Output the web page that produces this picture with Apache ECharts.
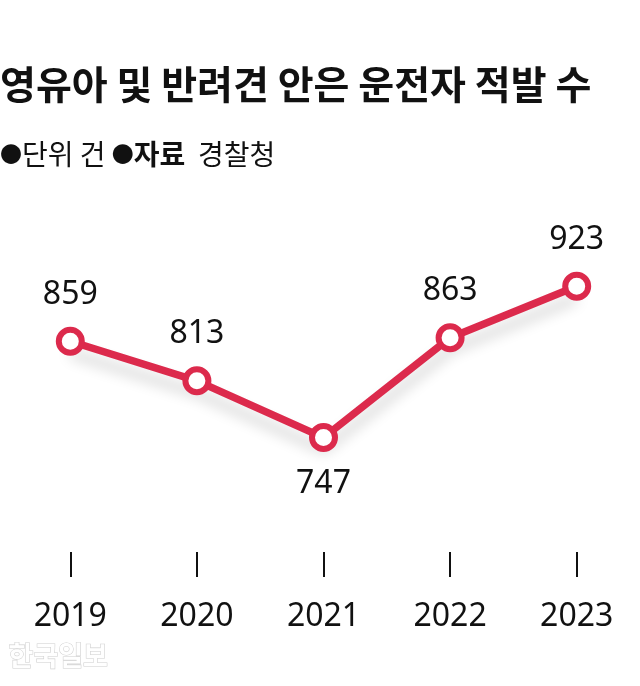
<!DOCTYPE html>
<html><head><meta charset="utf-8">
<script src="https://cdn.jsdelivr.net/npm/echarts@6/dist/echarts.min.js"></script>
<style>html,body{margin:0;padding:0;background:#fff}#c{width:640px;height:686px}</style>
</head><body><div id="c"></div>
<script>
const categories = ['2019','2020','2021','2022','2023'];
const values = [859, 813, 747, 863, 923];
const labelPositions = ['top','top','bottom','top','top'];
const titleText = '영유아 및 반려견 안은 운전자 적발 수';
const red = '#dc2a4c';
const chart = echarts.init(document.getElementById('c'));
chart.setOption({
  backgroundColor: '#fff',
  animation: false,
  graphic: [
    {type:'text', left: 0, top: 65, style:{text: titleText, font: 'bold 39px "Noto Sans CJK KR"', fill:'#111', letterSpacing: -1}},
    {type:'text', left: 0, top: 140, style:{
      rich:{d:{font:'22px "Noto Sans CJK KR"', fill:'#111'}, n:{font:'28px "Noto Sans CJK KR"', fill:'#111'}, b:{font:'bold 28px "Noto Sans CJK KR"', fill:'#111'}},
      text:'{d|●}{n|단위 건 }{d|●}{b|자료}{n|  경찰청}'}},
    {type:'text', left: 8, top: 642, style:{text:'한국일보', font:'bold 27px "Noto Sans CJK KR"', fill:'#fff', stroke:'#d0d0d0', lineWidth:1.2}}
  ],
  grid: {left: 7, right: 0, top: 220, bottom: 686-564},
  xAxis: {
    type:'category', data: categories, boundaryGap: true, offset: 13,
    axisLine:{show:false},
    axisTick:{show:true, inside:true, length:25, alignWithLabel:true, lineStyle:{color:'#111', width:2}},
    axisLabel:{margin: 24, fontSize: 32, color:'#111', fontFamily:'"Noto Sans"'}
  },
  yAxis: {type:'value', min:600, max:1000, show:false, splitLine:{show:false}},
  series: [{
    type:'line', data: values.map((v,i)=>({value:v, label:{position: labelPositions[i]}})),
    symbol:'circle', symbolSize: 23,
    lineStyle:{color: red, width: 7.5, shadowColor:'rgba(0,0,0,0.18)', shadowBlur:14, shadowOffsetY:12},
    itemStyle:{color:'#fff', borderColor: red, borderWidth: 6},
    label:{show:true, fontSize: 32, color:'#111', distance: 16, fontFamily:'"Noto Sans"'}
  }]
});
</script></body></html>
